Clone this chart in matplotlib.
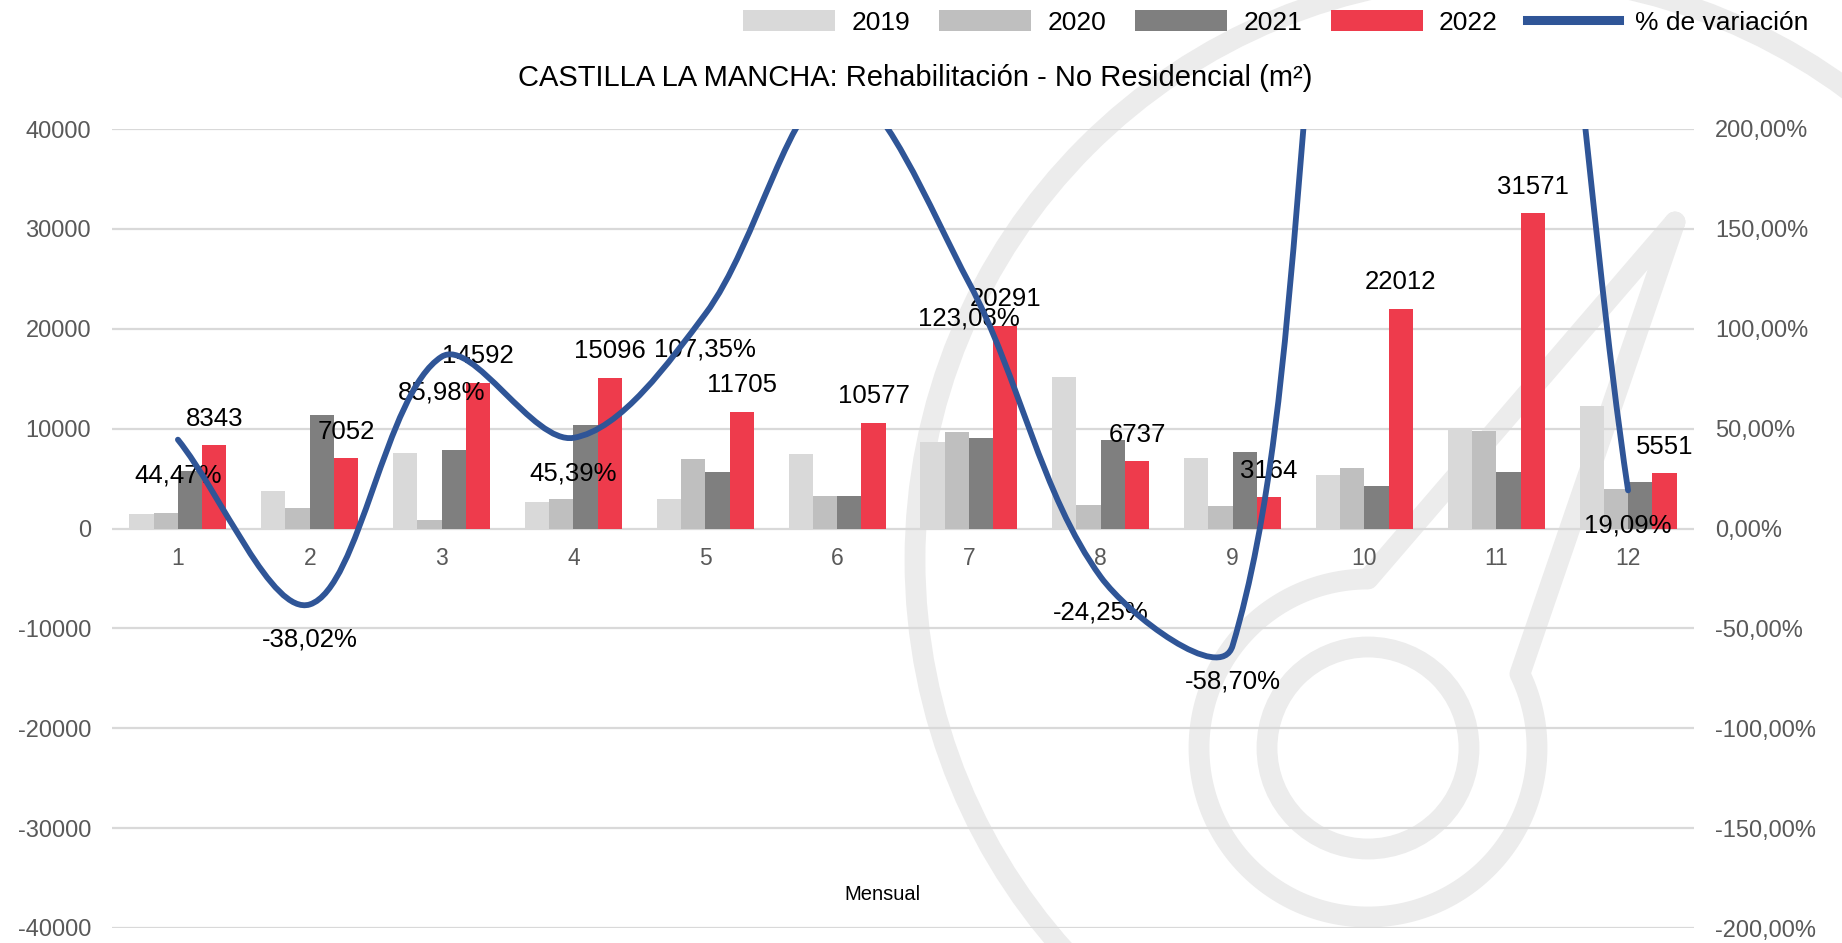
import numpy as np
import matplotlib
matplotlib.use("Agg")
import matplotlib.pyplot as plt
from matplotlib.path import Path
from matplotlib.patches import PathPatch, Circle, Patch
from matplotlib.lines import Line2D
import matplotlib.ticker as mticker

# ---------------- data ----------------
months = list(range(1, 13))
month_labels = [str(m) for m in months]
v2019 = [1436, 3709, 7537, 2632, 2931, 7478, 8684, 15145, 7059, 5324, 10000, 12273]
v2020 = [1555, 2034, 897, 2991, 7000, 3230, 9700, 2393, 2273, 6102, 9761, 3948]
v2021 = [5775, 11378, 7846, 10383, 5645, 3290, 9096, 8894, 7661, 4247, 5623, 4661]
v2022 = [8343, 7052, 14592, 15096, 11705, 10577, 20291, 6737, 3164, 22012, 31571, 5551]
pct = [44.47, -38.02, 85.98, 45.39, 107.35, 221.5, 123.08, -24.25, -58.70, 418.3, 461.5, 19.09]
series_names = ["2019", "2020", "2021", "2022"]
line_name = "% de variación"
title = "CASTILLA LA MANCHA: Rehabilitación - No Residencial (m²)"
xlabel = "Mensual"

# ---------------- style ----------------
plt.rcParams["font.family"] = ["Liberation Sans", "DejaVu Sans"]
colors = ["#d9d9d9", "#bfbfbf", "#7f7f7f", "#ee3b4c"]
line_color = "#2f5597"
tick_color = "#595959"
grid_color = "#d9d9d9"
wm_color = "#ececec"

W, H = 1842, 943
fig = plt.figure(figsize=(W / 100, H / 100), dpi=100)

# ---------------- watermark (background logo) ----------------
bg = fig.add_axes([0, 0, 1, 1], zorder=0)
bg.set_xlim(0, W)
bg.set_ylim(H, 0)
bg.axis("off")
bg.add_patch(Circle((1500, 560), 585, fill=False, lw=15, ec=wm_color))
bg.add_patch(Circle((1368, 748), 101, fill=False, lw=15, ec=wm_color))
cx, cy, r = 1368, 748, 169
tip = (1675, 222)
ang = np.deg2rad(np.linspace(90, 386, 200))
ring_x = cx + r * np.cos(ang)
ring_y = cy - r * np.sin(ang)
px = np.concatenate([[tip[0]], ring_x, [tip[0]]])
py = np.concatenate([[tip[1]], ring_y, [tip[1]]])
bg.plot(px, py, color=wm_color, lw=15, solid_joinstyle="round", solid_capstyle="round")

# ---------------- main axes ----------------
left, right = 112 / W, 1694 / W
top, bottom = 1 - 129 / H, 1 - 928 / H
ax = fig.add_axes([left, bottom, right - left, top - bottom], zorder=1)
ax.patch.set_visible(False)
ax2 = ax.twinx()
ax2.patch.set_visible(False)

x = np.array(months, dtype=float)
bw = 0.184
for i, (vals, c, name) in enumerate(zip([v2019, v2020, v2021, v2022], colors, series_names)):
    ax.bar(x + (i - 1.5) * bw, vals, width=bw, color=c, label=name, zorder=2, linewidth=0)

ax.set_xlim(0.5, 12.5)
ax.set_ylim(-40000, 40000)
ax.set_yticks(np.arange(-40000, 40001, 10000))
ax.yaxis.set_major_formatter(mticker.FuncFormatter(lambda v, p: f"{int(v)}"))
ax.set_xticks(x)
ax.set_xticklabels(month_labels)
ax.yaxis.grid(True, color=grid_color, lw=1.6)
ax.set_axisbelow(True)
for s in ax.spines.values():
    s.set_visible(False)
ax.spines["bottom"].set_position(("data", 0))
ax.tick_params(axis="x", length=0, pad=13, labelsize=16.5, labelcolor=tick_color)
ax.tick_params(axis="y", length=0, pad=15, labelsize=17, labelcolor=tick_color)

# bar labels for 2022
for xi, v in zip(x, v2022):
    ax.annotate(f"{v}", (xi + 1.5 * bw, v), xytext=(0, 19), textcoords="offset points",
                ha="center", va="center", fontsize=18.5, color="black", zorder=5)

# ---------------- secondary axis: % variation ----------------
ax2.set_ylim(-2, 2)
ax2.set_yticks(np.arange(-2, 2.01, 0.5))
ax2.yaxis.set_major_formatter(
    mticker.FuncFormatter(lambda v, p: f"{v * 100:.2f}%".replace(".", ",")))
for s in ax2.spines.values():
    s.set_visible(False)
ax2.tick_params(axis="y", length=0, pad=15, labelsize=17, labelcolor=tick_color)

# smooth (Excel-like) bezier curve computed in display space
ys = np.array(pct) / 100.0
P = ax2.transData.transform(np.column_stack([x, ys]))
n = len(P)


def tang(i):
    return P[min(i + 1, n - 1)] - P[max(i - 1, 0)]


def seglen(i, j):
    if i < 0 or j >= n:
        return 0.0
    return float(np.linalg.norm(P[j] - P[i]))


verts = [P[0]]
codes = [Path.MOVETO]
k = 1 / 3
for i in range(n - 1):
    d_prev = seglen(i - 1, i)
    d_cur = seglen(i, i + 1)
    d_next = seglen(i + 1, i + 2)
    c1 = P[i] + k * d_cur / (d_prev + d_cur) * tang(i)
    c2 = P[i + 1] - k * d_cur / (d_cur + d_next) * tang(i + 1)
    verts += [c1, c2, P[i + 1]]
    codes += [Path.CURVE4] * 3
verts_data = ax2.transData.inverted().transform(np.array(verts))
ax2.add_patch(PathPatch(Path(verts_data, codes), fill=False, ec=line_color, lw=4.2,
                        zorder=3, capstyle="round", joinstyle="round"))

for xi, v, p in zip(x, ys, pct):
    ax2.annotate(f"{p:.2f}%".replace(".", ","), (xi, v), xytext=(0, -25.5),
                 textcoords="offset points", ha="center", va="center",
                 fontsize=18.5, color="black", zorder=2)

# ---------------- title, axis title, legend ----------------
fig.text(915 / W, 1 - 78 / H, title, ha="center", va="center", fontsize=21, color="black")
fig.text(882 / W, 1 - 894 / H, xlabel, ha="center", va="center", fontsize=14.5, color="black")

handles = [Patch(facecolor=c, edgecolor="none") for c in colors]
handles.append(Line2D([0], [0], color=line_color, lw=6.5))
fig.legend(handles, series_names + [line_name], loc="center left",
           bbox_to_anchor=(743 / W, 1 - 22.5 / H), ncol=5, frameon=False,
           fontsize=19, handlelength=3.48, handleheight=0.8, handletextpad=0.62,
           columnspacing=1.1, borderpad=0, borderaxespad=0)

fig.savefig("out.png", dpi=100)
